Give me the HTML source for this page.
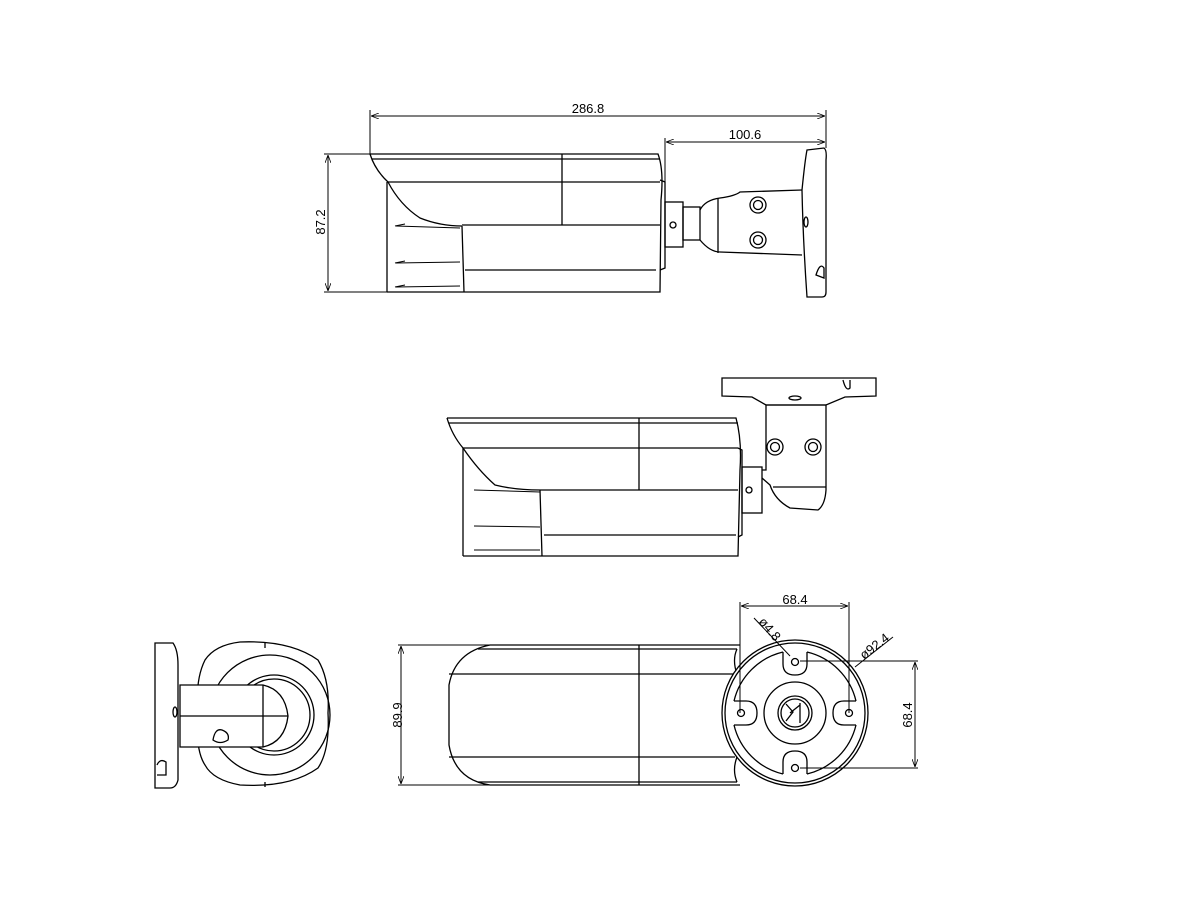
<!DOCTYPE html>
<html><head><meta charset="utf-8"><style>html,body{margin:0;padding:0;background:#fff}svg{display:block}</style></head>
<body>
<svg width="1200" height="900" viewBox="0 0 1200 900" xmlns="http://www.w3.org/2000/svg" fill="none" stroke="#000" stroke-width="1.3" font-family="Liberation Sans, sans-serif">
<defs><marker id="a" markerWidth="8" markerHeight="6" refX="8" refY="3" orient="auto-start-reverse"><path d="M0,0 L8,3 L0,6" fill="none" stroke="#000" stroke-width="0.8"/></marker></defs>

<!-- ===== View 1 ===== -->
<g stroke-width="1">
<line x1="370" y1="110" x2="370" y2="155"/><line x1="826" y1="110" x2="826" y2="148"/>
<line x1="371" y1="116" x2="825" y2="116" marker-start="url(#a)" marker-end="url(#a)"/>
<line x1="665" y1="138" x2="665" y2="205"/>
<line x1="666" y1="142" x2="825" y2="142" marker-start="url(#a)" marker-end="url(#a)"/>
<line x1="324" y1="154" x2="372" y2="154"/><line x1="324" y1="292" x2="390" y2="292"/>
<line x1="328" y1="155" x2="328" y2="291" marker-start="url(#a)" marker-end="url(#a)"/>
</g>
<g fill="#000" stroke="none" font-size="13">
<text x="588" y="113" text-anchor="middle">286.8</text>
<text x="745" y="139" text-anchor="middle">100.6</text>
<text transform="translate(325,222) rotate(-90)" text-anchor="middle">87.2</text>
</g>
<path d="M370,154 L658,154 Q664,170 661,200 L660,292 L387,292"/>
<path d="M372,159 L660,159"/>
<path d="M370,154 Q375,170 388,182 Q400,205 420,218 Q440,226 462,226"/>
<line x1="387" y1="182" x2="660" y2="182"/>
<line x1="387" y1="182" x2="387" y2="292"/>
<line x1="462" y1="225" x2="660" y2="225"/>
<path d="M462,226 L464,292"/>
<line x1="465" y1="270" x2="656" y2="270"/>
<line x1="562" y1="154" x2="562" y2="225"/>
<path d="M396,226 L460,228 M396,263 L460,262 M396,287 L460,286" stroke-width="1"/>
<path d="M395,226 L405,224 M395,263 L405,261 M395,287 L405,285" stroke-width="1"/>
<path d="M660,180 L665,182 L665,268 L660,270"/>
<rect x="665" y="202" width="18" height="45"/>
<circle cx="673" cy="225" r="3"/>
<rect x="683" y="207" width="17" height="33"/>
<path d="M700,210 Q705,200 720,198 Q735,196 740,192 L802,190"/>
<path d="M700,240 Q710,252 720,252 L802,255"/>
<line x1="718" y1="198" x2="718" y2="253"/>
<circle cx="758" cy="205" r="8"/><circle cx="758" cy="205" r="4.5"/>
<circle cx="758" cy="240" r="8"/><circle cx="758" cy="240" r="4.5"/>
<path d="M807,150 L824,148 Q827,150 826,160 L826,292 Q826,297 822,297 L807,297 Q803,240 802,190 Q805,160 807,150 Z"/>
<ellipse cx="806" cy="222" rx="2" ry="5"/>
<path d="M816,275 Q820,262 824,268 L824,278 Z"/>

<!-- ===== View 2 ===== -->
<path d="M447,418 L736,418 Q742,440 740,470 L738,556 L540,556"/>
<line x1="449" y1="423" x2="738" y2="423"/>
<path d="M447,418 Q452,435 463,448 Q478,470 495,485 Q515,490 540,490"/>
<line x1="463" y1="448" x2="738" y2="448"/>
<line x1="463" y1="448" x2="463" y2="556"/>
<line x1="463" y1="556" x2="540" y2="556"/>
<line x1="540" y1="490" x2="738" y2="490"/>
<path d="M540,490 L542,556"/>
<line x1="544" y1="535" x2="736" y2="535"/>
<line x1="639" y1="418" x2="639" y2="490"/>
<path d="M474,490 L540,492 M474,526 L540,527 M474,550 L540,550" stroke-width="1"/>
<path d="M738,448 L742,450 L742,535 L738,537"/>
<rect x="742" y="467" width="20" height="46"/>
<circle cx="749" cy="490" r="3"/>
<path d="M762,470 L766,470 L766,405 L826,405 L826,490 Q825,505 818,510 L790,508 Q775,500 770,485 L762,478"/>
<line x1="773" y1="487" x2="826" y2="487"/>
<path d="M722,378 L876,378 L876,396 L845,397 L826,405 L766,405 L752,397 L722,396 Z"/>
<ellipse cx="795" cy="398" rx="6" ry="2"/>
<path d="M843,380 Q846,392 850,388 L850,380"/>
<circle cx="775" cy="447" r="8"/><circle cx="775" cy="447" r="4.5"/>
<circle cx="813" cy="447" r="8"/><circle cx="813" cy="447" r="4.5"/>

<!-- ===== View 3 ===== -->
<path d="M155,643 L173,643 Q178,650 178,665 L178,780 Q176,788 170,788 L155,788 Z"/>
<ellipse cx="175" cy="712" rx="2" ry="5"/>
<path d="M157,765 Q160,758 166,762 L166,775 L157,775"/>
<path d="M205,660 Q215,645 240,642 Q290,640 318,660 Q330,680 328,713 Q330,750 318,768 Q290,788 240,785 Q213,780 205,765 Q195,750 198,713 Q195,680 205,660 Z"/>
<path d="M265,643 L265,648 M265,782 L265,787"/>
<circle cx="270" cy="715" r="60"/>
<circle cx="274" cy="715" r="40"/>
<circle cx="274" cy="715" r="36"/>
<path d="M180,685 L263,685 Q285,690 288,716 Q285,742 263,747 L180,747 Z" fill="#fff"/>
<line x1="180" y1="716" x2="288" y2="716"/>
<line x1="263" y1="685" x2="263" y2="747"/>
<path d="M213,740 Q215,728 222,730 Q230,733 228,740 Q220,745 213,740 Z"/>

<!-- ===== View 4 ===== -->
<g stroke-width="1">
<line x1="398" y1="645" x2="490" y2="645"/><line x1="398" y1="785" x2="490" y2="785"/>
<line x1="401" y1="646" x2="401" y2="784" marker-start="url(#a)" marker-end="url(#a)"/>
</g>
<text transform="translate(402,715) rotate(-90)" text-anchor="middle" fill="#000" stroke="none" font-size="13">89.9</text>
<path d="M740,645 L490,645 Q455,652 449,685 L449,745 Q455,780 490,785 L740,785"/>
<line x1="478" y1="649" x2="737" y2="649"/>
<line x1="478" y1="782" x2="737" y2="782"/>
<line x1="449" y1="674" x2="735" y2="674"/>
<line x1="449" y1="757" x2="735" y2="757"/>
<line x1="639" y1="645" x2="639" y2="785"/>
<path d="M737,649 Q732,660 737,674 M737,757 Q732,770 737,782"/>

<!-- mount circle -->
<circle cx="795" cy="713" r="73" fill="#fff"/>
<circle cx="795" cy="713" r="70"/>
<path d="M783,652 L783,664 Q783,675 795,675 Q807,675 807,664 L807,652
 M783,774 L783,762 Q783,751 795,751 Q807,751 807,762 L807,774
 M734,701 L746,701 Q757,701 757,713 Q757,725 746,725 L734,725
 M856,701 L844,701 Q833,701 833,713 Q833,725 844,725 L856,725"/>
<path d="M783,652 A66,66 0 0 0 734,701 M807,652 A66,66 0 0 1 856,701 M856,725 A66,66 0 0 1 807,774 M783,774 A66,66 0 0 1 734,725"/>
<circle cx="795" cy="662" r="3.5"/><circle cx="795" cy="768" r="3.5"/>
<circle cx="741" cy="713" r="3.5"/><circle cx="849" cy="713" r="3.5"/>
<circle cx="795" cy="713" r="31"/>
<circle cx="795" cy="713" r="17"/><circle cx="795" cy="713" r="14"/>
<path d="M786,704 L793,712 L786,721 M800,703 L800,723 M790,713 L800,705"/>
<g stroke-width="1">
<line x1="740" y1="602" x2="740" y2="713"/><line x1="849" y1="602" x2="849" y2="713"/>
<line x1="741" y1="606" x2="848" y2="606" marker-start="url(#a)" marker-end="url(#a)"/>
<line x1="800" y1="661" x2="918" y2="661"/><line x1="800" y1="768" x2="918" y2="768"/>
<line x1="915" y1="662" x2="915" y2="767" marker-start="url(#a)" marker-end="url(#a)"/>
<line x1="754" y1="618" x2="790" y2="656"/>
<line x1="855" y1="667" x2="893" y2="637"/>
</g>
<g fill="#000" stroke="none" font-size="13">
<text x="795" y="604" text-anchor="middle">68.4</text>
<text transform="translate(912,715) rotate(-90)" text-anchor="middle">68.4</text>
<text transform="translate(758,622) rotate(50)">ø4.8</text>
<text transform="translate(864,660) rotate(-38)">ø92.4</text>
</g>
</svg>
</body></html>
